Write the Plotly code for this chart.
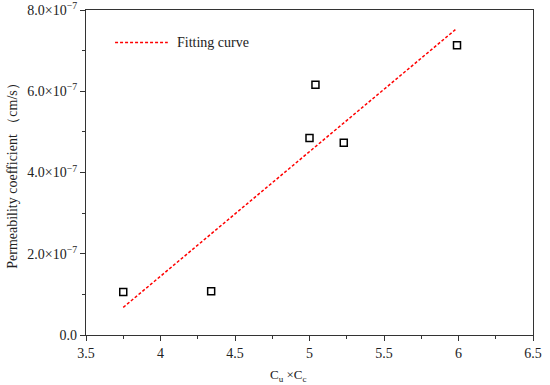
import plotly.graph_objects as go

x_vals = [3.75, 4.34, 5.00, 5.04, 5.23, 5.99]
y_vals = [1.06e-7, 1.08e-7, 4.85e-7, 6.16e-7, 4.73e-7, 7.13e-7]
fit_x = [3.75, 5.98]
fit_y = [0.68e-7, 7.52e-7]
y_tickvals = [0, 2e-7, 4e-7, 6e-7, 8e-7]
y_ticktext = ["0.0", "2.0×10<sup>−7</sup>", "4.0×10<sup>−7</sup>", "6.0×10<sup>−7</sup>", "8.0×10<sup>−7</sup>"]
x_tickvals = [3.5, 4, 4.5, 5, 5.5, 6, 6.5]
x_ticktext = ["3.5", "4", "4.5", "5", "5.5", "6", "6.5"]
legend_label = "Fitting curve"
x_title = "C<sub>u</sub> ×C<sub>c</sub>"
y_title = "Permeability coefficient （cm/s）"

font = "Liberation Serif"
red_dash = "3px,2px"

fig = go.Figure()
fig.add_trace(go.Scatter(x=fit_x, y=fit_y, mode="lines", name=legend_label, showlegend=False,
                         line=dict(color="red", width=1.5, dash=red_dash)))
fig.add_trace(go.Scatter(x=x_vals, y=y_vals, mode="markers", showlegend=False,
                         marker=dict(symbol="square-open", size=7, color="black",
                                     line=dict(width=1.5, color="black"))))

# legend drawn as a sample line + label (top-left inside the plot)
fig.add_shape(type="line", xref="paper", yref="paper", x0=0.065, x1=0.183, y0=0.90, y1=0.90,
              line=dict(color="red", width=1.5, dash=red_dash))
fig.add_annotation(text=legend_label, xref="paper", yref="paper", x=0.198, y=0.90,
                   xanchor="left", yanchor="middle", showarrow=False,
                   font=dict(family=font, size=14, color="#222"))
# x-axis title (slightly left of centre, as in the reference)
fig.add_annotation(text=x_title, xref="paper", yref="paper", x=0.452, y=-0.125,
                   xanchor="center", yanchor="middle", showarrow=False,
                   font=dict(family=font, size=13, color="#222"))

fig.update_layout(
    width=550, height=385,
    margin=dict(l=86, r=17, t=10, b=50),
    paper_bgcolor="white", plot_bgcolor="white",
    font=dict(family=font, size=14, color="#222"),
    showlegend=False,
)
fig.update_xaxes(range=[3.5, 6.5], tickvals=x_tickvals, ticktext=x_ticktext, automargin=False,
                 tickfont=dict(family=font, size=14, color="#222"),
                 ticks="outside", ticklen=5, tickwidth=1, tickcolor="#333",
                 showline=True, linecolor="#333", linewidth=1.2, mirror=True,
                 showgrid=False, zeroline=False,
                 minor=dict(ticks="outside", ticklen=3, dtick=0.25, tick0=3.5, tickcolor="#333", showgrid=False))
fig.update_yaxes(range=[0, 8e-7], tickvals=y_tickvals, ticktext=y_ticktext, automargin=False,
                 tickfont=dict(family=font, size=14, color="#222"),
                 ticks="outside", ticklen=5, tickwidth=1, tickcolor="#333",
                 showline=True, linecolor="#333", linewidth=1.2, mirror=True,
                 showgrid=False, zeroline=False,
                 minor=dict(ticks="outside", ticklen=3, dtick=1e-7, tick0=0, tickcolor="#333", showgrid=False),
                 title=dict(text=y_title, standoff=6, font=dict(family=font, size=14, color="#222")))

fig.write_html("out.html", config={"displayModeBar": False},
               post_script="document.body.style.margin='0';")
